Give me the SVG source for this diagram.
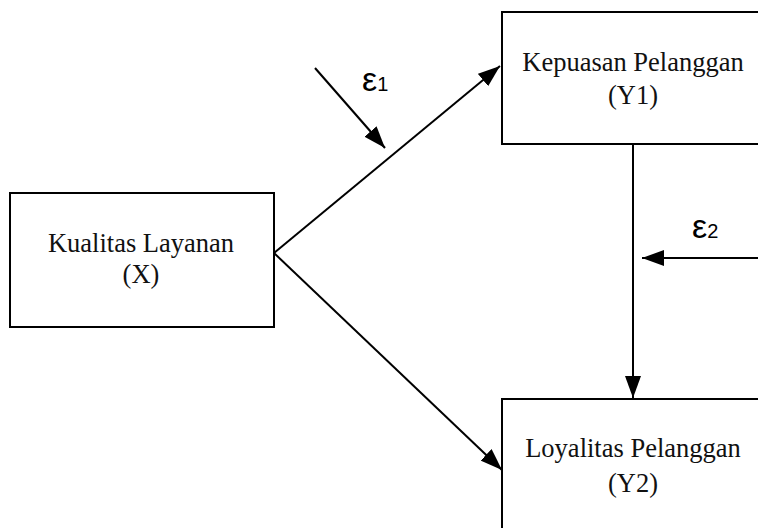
<svg xmlns="http://www.w3.org/2000/svg" width="758" height="528" viewBox="0 0 758 528">
<style>
.box{fill:#fff;stroke:#000;stroke-width:2}
.lbl{font-family:"Liberation Serif","Times New Roman",serif;font-size:26.5px;fill:#111;text-anchor:middle}
.eps{font-family:"Liberation Sans",Arial,sans-serif;font-size:34px;fill:#000}
.sub{font-size:20px}
.con{stroke:#000;stroke-width:2;fill:none;marker-end:url(#ah)}
</style>
<defs>
<marker id="ah" viewBox="0 0 22 16" refX="22" refY="8" markerWidth="22" markerHeight="16" markerUnits="userSpaceOnUse" orient="auto">
<path d="M0,0 L22,8 L0,16 Z" fill="#000"/>
</marker>
</defs>
<rect width="758" height="528" fill="#fff"/>
<g id="node-x">
<rect class="box" x="10" y="193" width="264" height="134"/>
<text class="lbl" x="141" y="252">Kualitas Layanan</text>
<text class="lbl" x="141" y="283">(X)</text>
</g>
<g id="node-y1">
<rect class="box" x="502" y="12" width="300" height="132"/>
<text class="lbl" x="633" y="71">Kepuasan Pelanggan</text>
<text class="lbl" x="633" y="104">(Y1)</text>
</g>
<g id="node-y2">
<rect class="box" x="502" y="399" width="300" height="160"/>
<text class="lbl" x="633" y="457">Loyalitas Pelanggan</text>
<text class="lbl" x="633" y="492">(Y2)</text>
</g>
<g id="connectors">
<line class="con" x1="274" y1="253" x2="500" y2="66"/>
<line class="con" x1="274" y1="253" x2="502" y2="470"/>
<line class="con" x1="633" y1="144" x2="633" y2="398"/>
<line class="con" x1="315" y1="68" x2="385" y2="148"/>
<line class="con" x1="758" y1="258" x2="642" y2="258"/>
</g>
<g id="errors">
<text class="eps" x="362" y="91">ε<tspan class="sub">1</tspan></text>
<text class="eps" x="692" y="238">ε<tspan class="sub">2</tspan></text>
</g>
</svg>
